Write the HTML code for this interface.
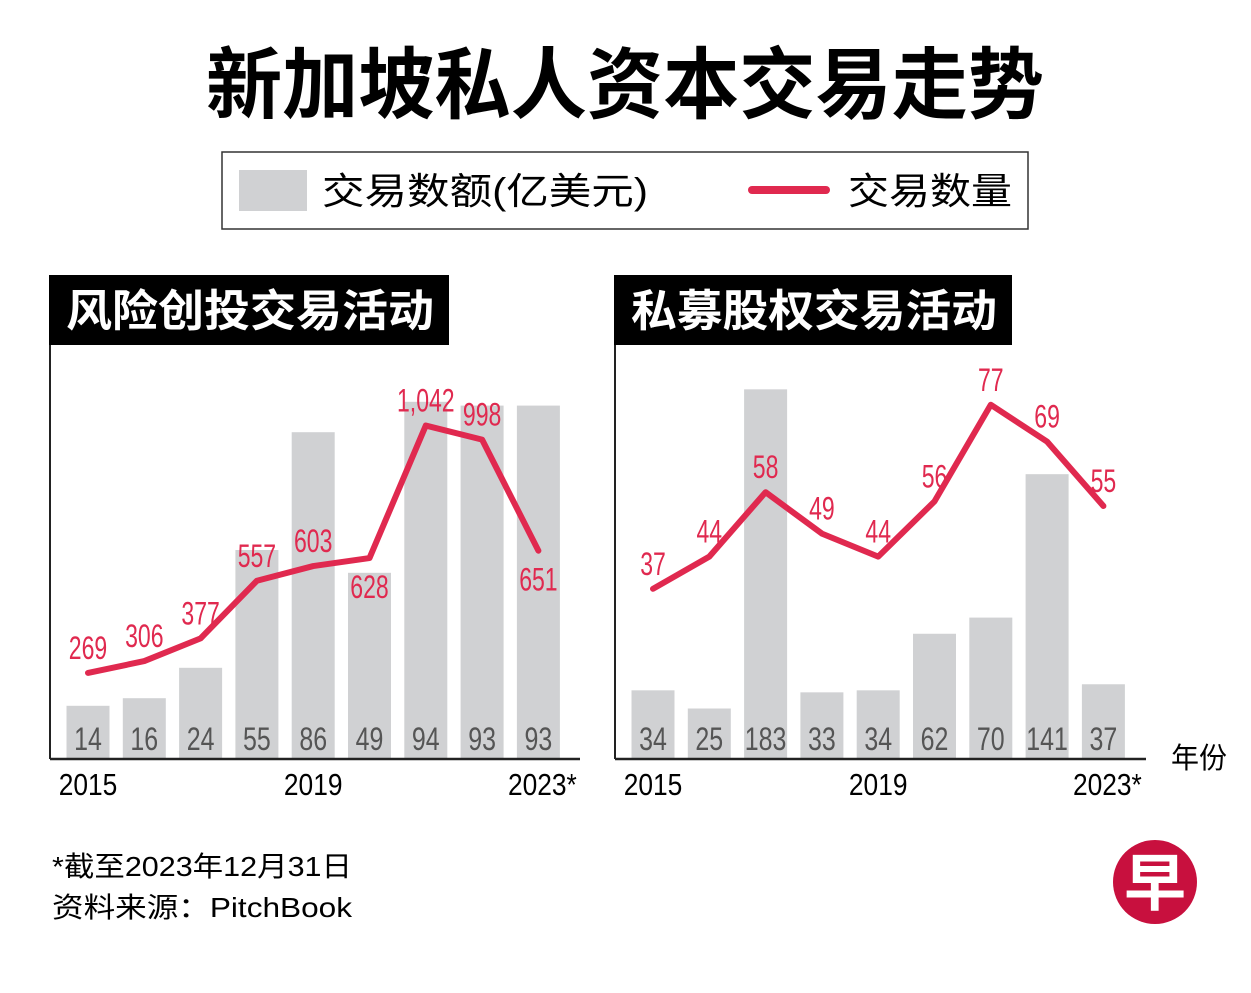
<!DOCTYPE html>
<html><head><meta charset="utf-8"><style>
html,body{margin:0;padding:0;background:#fff;}
body{width:1251px;height:988px;overflow:hidden;position:relative;font-family:"Liberation Sans","Noto Sans CJK SC",sans-serif;}
svg text{font-family:"Liberation Sans","Noto Sans CJK SC",sans-serif;}
</style></head><body>
<svg id="chart" width="1251" height="988" viewBox="0 0 1251 988" xmlns="http://www.w3.org/2000/svg">
<text x="206" y="112" font-size="78" font-weight="bold" fill="#000" textLength="838" lengthAdjust="spacingAndGlyphs">新加坡私人资本交易走势</text>
<g>
<rect x="222" y="152" width="806" height="77" fill="#fff" stroke="#333" stroke-width="1.5"/>
<rect x="239" y="170" width="68" height="41" fill="#d0d1d3"/>
<text x="322" y="204" font-size="37" fill="#000" textLength="326" lengthAdjust="spacingAndGlyphs">交易数额(亿美元)</text>
<line x1="752" y1="190" x2="826" y2="190" stroke="#e0294f" stroke-width="8" stroke-linecap="round"/>
<text x="848" y="204" font-size="37" fill="#000" textLength="164" lengthAdjust="spacingAndGlyphs">交易数量</text>
</g>
<g id="left"></g>
<g id="right"></g>
<text x="52" y="876" font-size="28" fill="#000" textLength="300" lengthAdjust="spacingAndGlyphs">*截至2023年12月31日</text>
<text x="52" y="917" font-size="28" fill="#000" textLength="300" lengthAdjust="spacingAndGlyphs">资料来源：PitchBook</text>
<g>
<circle cx="1155" cy="882" r="42" fill="#c8103e"/>
<text x="1155" y="905" text-anchor="middle" font-size="62" font-weight="bold" fill="#fff">早</text>
</g>
</svg>
<script>
const years = ["2015","2016","2017","2018","2019","2020","2021","2022","2023*"];
const yearLabels = ["2015","","","","2019","","","","2023*"];
const vcAmounts = [14,16,24,55,86,49,94,93,93];
const vcCounts = [269,306,377,557,603,628,1042,998,651];
const vcCountLabels = ["269","306","377","557","603","628","1,042","998","651"];
const vcLabelSide = ["a","a","a","a","a","b","a","a","b"];
const peAmounts = [34,25,183,33,34,62,70,141,37];
const peCounts = [37,44,58,49,44,56,77,69,55];
const peCountLabels = ["37","44","58","49","44","56","77","69","55"];
const peLabelSide = ["a","a","a","a","a","a","a","a","a"];

const NS="http://www.w3.org/2000/svg";
function mk(parent,tag,attrs,text){const e=document.createElementNS(NS,tag);for(const k in attrs)e.setAttribute(k,attrs[k]);if(text!==undefined)e.textContent=text;parent.appendChild(e);return e;}
function num(parent,x,y,sx,attrs,text){
  const a=Object.assign({x:0,y:0,'text-anchor':'middle',transform:'translate('+x+','+y+') scale('+sx+',1)'},attrs);
  return mk(parent,'text',a,text);
}

function panel(g,cfg){
  const x0=cfg.x0, base=759, step=56.3;
  const xAt=i=>x0+38+i*step;
  const yBar=v=>base-v*cfg.barScale;
  const yLine=v=>base-v*cfg.lineScale;
  const t=mk(g,'rect',{x:x0-1,y:275,width:cfg.titleW,height:70,fill:'#000'});
  
  
  const tt=mk(g,'text',{x:x0+16,y:326,'font-size':44,'font-weight':'bold',fill:'#fff',textLength:cfg.titleLen,lengthAdjust:'spacingAndGlyphs'},cfg.title);
  
  
  const la=mk(g,'line',{x1:x0,y1:345,x2:x0,y2:base,stroke:'#222','stroke-width':2});
  
  
  cfg.amounts.forEach((v,i)=>{
    const b=mk(g,'rect',{x:xAt(i)-21.5,y:yBar(v),width:43,height:base-yBar(v),fill:'#d0d1d3'});
    
    
    const bl=num(g,xAt(i),750,0.78,{'font-size':32,fill:'#555'},String(v));
    
    
  });
  const xa=mk(g,'line',{x1:x0,y1:base,x2:cfg.axisEnd,y2:base,stroke:'#222','stroke-width':2.5});
  
  
  yearLabels.forEach((y,i)=>{ if(!y)return;
    const yl=num(g,xAt(i)+(i===8?4:0),795,0.85,{'font-size':31,fill:'#000'},y);
    
    
  });
  const pts=cfg.counts.map((v,i)=>xAt(i)+','+yLine(v)).join(' ');
  const pl=mk(g,'polyline',{points:pts,fill:'none',stroke:'#e0294f','stroke-width':6,'stroke-linejoin':'round','stroke-linecap':'round'});
  
  
  cfg.counts.forEach((v,i)=>{
    const y=cfg.side[i]==='a'?yLine(v)-14:yLine(v)+40;
    const l=num(g,xAt(i),y,0.72,{'font-size':32,fill:'#e0294f'},cfg.labels[i]);
    
    
  });
}
panel(document.getElementById('left'),{x0:50,titleW:400,titleLen:368,title:'风险创投交易活动',amounts:vcAmounts,counts:vcCounts,labels:vcCountLabels,side:vcLabelSide,barScale:3.8,lineScale:0.32,axisEnd:580});
panel(document.getElementById('right'),{x0:615,titleW:398,titleLen:366,title:'私募股权交易活动',amounts:peAmounts,counts:peCounts,labels:peCountLabels,side:peLabelSide,barScale:2.02,lineScale:4.6,axisEnd:1146});
const yr=mk(document.getElementById('right'),'text',{x:1171,y:768,'font-size':29,fill:'#000',textLength:56,lengthAdjust:'spacingAndGlyphs'},'年份');


</script>
</body></html>
